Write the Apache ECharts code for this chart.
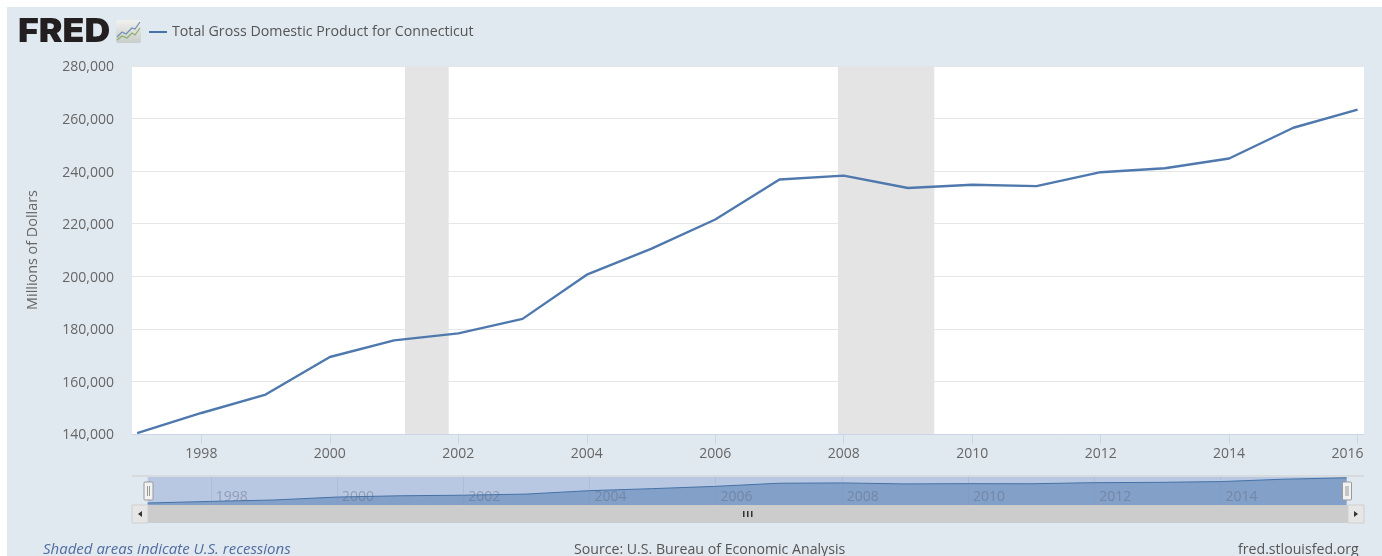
<!DOCTYPE html>
<html>
<head>
<meta charset="utf-8">
<style>
  html, body { margin: 0; padding: 0; background: #fff; }
  #chart { width: 1382px; height: 556px; }
</style>
<script src="https://cdn.jsdelivr.net/npm/echarts@6/dist/echarts.min.js"></script>
</head>
<body>
<div id="chart"></div>
<script>
var seriesName = 'Total Gross Domestic Product for Connecticut';
var years = [1997, 1998, 1999, 2000, 2001, 2002, 2003, 2004, 2005, 2006, 2007, 2008, 2009, 2010, 2011, 2012, 2013, 2014, 2015, 2016];
var gdp = [140300, 148000, 155000, 169300, 175600, 178300, 183800, 200600, 210400, 221600, 236800, 238300, 233600, 234800, 234300, 239600, 241100, 244800, 256500, 263400];
var recessions = [[2001.17, 2001.85], [2007.91, 2009.41]];
var xTicks = [1998, 2000, 2002, 2004, 2006, 2008, 2010, 2012, 2014, 2016];
var navTicks = [1998, 2000, 2002, 2004, 2006, 2008, 2010, 2012, 2014];

var points = years.map(function (y, i) { return [y, gdp[i]]; });
var font = '"Open Sans", sans-serif';

var chart = echarts.init(document.getElementById('chart'));
var option = {
  animation: false,
  backgroundColor: '#fff',
  textStyle: { fontFamily: font },
  legend: {
    left: 144,
    top: 20,
    icon: 'rect',
    itemWidth: 18,
    itemHeight: 2,
    data: [seriesName],
    textStyle: { fontFamily: font, fontSize: 14.2, color: '#555' }
  },
  grid: [
    { left: 132, right: 18, top: 66, height: 368, show: true, backgroundColor: '#fff', borderWidth: 0 },
    { left: 147.7, right: 35.4, top: 477, height: 28, show: true, backgroundColor: '#b9c8e2', borderWidth: 0 }
  ],
  xAxis: [
    {
      type: 'value',
      gridIndex: 0,
      min: 1996.92,
      max: 2016.1,
      splitLine: { show: false },
      axisLine: { onZero: false, lineStyle: { color: '#ccd6eb' } },
      axisTick: { customValues: xTicks, length: 10, lineStyle: { color: '#ccd6eb' } },
      axisLabel: {
        customValues: xTicks,
        margin: 13,
        fontSize: 14,
        fontFamily: font,
        color: '#666',
        formatter: function (v) { return v === 2016 ? '{end|2016}' : String(v); },
        rich: { end: { padding: [0, 20, 0, 0], fontSize: 14, fontFamily: font, color: '#666' } }
      }
    },
    {
      type: 'value',
      gridIndex: 1,
      min: 1997,
      max: 2016,
      z: 5,
      axisLine: { show: false },
      axisTick: { show: false, customValues: navTicks },
      splitLine: { show: true, lineStyle: { color: 'rgba(120,140,175,0.18)' } },
      axisLabel: {
        customValues: navTicks,
        inside: true,
        margin: 1,
        align: 'left',
        padding: [0, 0, 0, 5],
        fontSize: 14,
        fontFamily: font,
        color: 'rgba(95,105,125,0.45)',
        formatter: function (v) { return String(v); }
      }
    }
  ],
  yAxis: [
    {
      type: 'value',
      gridIndex: 0,
      min: 140000,
      max: 280000,
      interval: 20000,
      name: 'Millions of Dollars',
      nameLocation: 'middle',
      nameGap: 92,
      nameRotate: 90,
      nameTextStyle: { fontSize: 14.4, fontFamily: font, color: '#666' },
      axisLine: { show: false },
      axisTick: { show: false },
      splitLine: { lineStyle: { color: '#e6e6e6' } },
      axisLabel: {
        margin: 18,
        fontSize: 14,
        fontFamily: font,
        color: '#666',
        formatter: function (v) { return '{t|' + v.toLocaleString('en-US') + '}'; },
        rich: { t: { padding: [3, 0, 0, 0], fontSize: 14, fontFamily: font, color: '#666' } }
      }
    },
    {
      type: 'value',
      gridIndex: 1,
      min: 130500,
      max: 267300,
      axisLine: { show: false },
      axisTick: { show: false },
      axisLabel: { show: false },
      splitLine: { show: false }
    }
  ],
  series: [
    {
      name: seriesName,
      type: 'line',
      xAxisIndex: 0,
      yAxisIndex: 0,
      data: points,
      showSymbol: false,
      itemStyle: { color: '#4572a7' },
      lineStyle: { color: '#4f79ad', width: 2.4 },
      markArea: {
        silent: true,
        itemStyle: { color: '#e4e4e4' },
        data: recessions.map(function (r) { return [{ xAxis: r[0] }, { xAxis: r[1] }]; })
      }
    },
    {
      name: 'navigator',
      type: 'line',
      xAxisIndex: 1,
      yAxisIndex: 1,
      data: points,
      showSymbol: false,
      lineStyle: { color: '#4572a7', width: 1 },
      areaStyle: { color: '#83a0c9', opacity: 1 }
    }
  ],
  graphic: [
    // page background
    { type: 'rect', z: -10, shape: { x: 7, y: 7, width: 1375, height: 549 }, style: { fill: '#e1e9f0' } },
    // logo
    { type: 'text', z: 10, x: 18, y: 16, scaleX: 1.08, style: { text: 'FRED', fontFamily: 'Inter, Roboto, sans-serif', fontWeight: 900, fontSize: 33, fill: '#231f20' } },
    { type: 'rect', z: 10, shape: { x: 116, y: 20, width: 25, height: 23, r: 2 }, style: { fill: new echarts.graphic.LinearGradient(0, 0, 0, 1, [{ offset: 0, color: '#f1f1ee' }, { offset: 1, color: '#c9cdc9' }]) } },
    { type: 'polyline', z: 11, shape: { points: [[117, 37], [122, 32], [126, 34], [132, 28], [135, 29], [140, 22]] }, style: { stroke: '#6f8fb5', fill: null, lineWidth: 1.2 } },
    { type: 'polyline', z: 11, shape: { points: [[117, 40], [122, 36], [127, 38], [132, 33], [135, 35], [140, 28]] }, style: { stroke: '#8cae6c', fill: null, lineWidth: 1.2 } },
    // navigator top line
    { type: 'rect', z: 10, shape: { x: 132, y: 475, width: 1232, height: 2 }, style: { fill: '#d8dbdd' } },
    // scrollbar
    { type: 'rect', z: 10, shape: { x: 132, y: 505, width: 1232, height: 18 }, style: { fill: '#cccccc' } },
    { type: 'rect', z: 11, shape: { x: 132, y: 505, width: 16, height: 18 }, style: { fill: '#e6e6e6', stroke: '#cfcfcf', lineWidth: 1 } },
    { type: 'rect', z: 11, shape: { x: 1348, y: 505, width: 16, height: 18 }, style: { fill: '#e6e6e6', stroke: '#cfcfcf', lineWidth: 1 } },
    { type: 'polygon', z: 12, shape: { points: [[138, 514], [142, 511], [142, 517]] }, style: { fill: '#333' } },
    { type: 'polygon', z: 12, shape: { points: [[1358, 514], [1354, 511], [1354, 517]] }, style: { fill: '#333' } },
    { type: 'rect', z: 12, shape: { x: 743, y: 511, width: 1.5, height: 6 }, style: { fill: '#333' } },
    { type: 'rect', z: 12, shape: { x: 747, y: 511, width: 1.5, height: 6 }, style: { fill: '#333' } },
    { type: 'rect', z: 12, shape: { x: 751, y: 511, width: 1.5, height: 6 }, style: { fill: '#333' } },
    // navigator handles
    { type: 'rect', z: 20, shape: { x: 144, y: 482, width: 9, height: 18, r: 1 }, style: { fill: '#f2f2f2', stroke: '#999', lineWidth: 1 } },
    { type: 'rect', z: 21, shape: { x: 147, y: 486, width: 1, height: 10 }, style: { fill: '#999' } },
    { type: 'rect', z: 21, shape: { x: 149, y: 486, width: 1, height: 10 }, style: { fill: '#999' } },
    { type: 'rect', z: 20, shape: { x: 1342.5, y: 482, width: 9, height: 18, r: 1 }, style: { fill: '#f2f2f2', stroke: '#999', lineWidth: 1 } },
    { type: 'rect', z: 21, shape: { x: 1345.5, y: 486, width: 1, height: 10 }, style: { fill: '#999' } },
    { type: 'rect', z: 21, shape: { x: 1347.5, y: 486, width: 1, height: 10 }, style: { fill: '#999' } },
    // footer
    { type: 'text', z: 10, x: 43, y: 542, style: { text: 'Shaded areas indicate U.S. recessions', fontFamily: font, fontStyle: 'italic', fontSize: 15, fill: '#4f6ca0' } },
    { type: 'text', z: 10, x: 574, y: 543, style: { text: 'Source: U.S. Bureau of Economic Analysis', fontFamily: font, fontSize: 14.15, fill: '#555' } },
    { type: 'text', z: 10, x: 1238, y: 543, style: { text: 'fred.stlouisfed.org', fontFamily: font, fontSize: 14.15, fill: '#555' } }
  ]
};
chart.setOption(option);
</script>
</body>
</html>
